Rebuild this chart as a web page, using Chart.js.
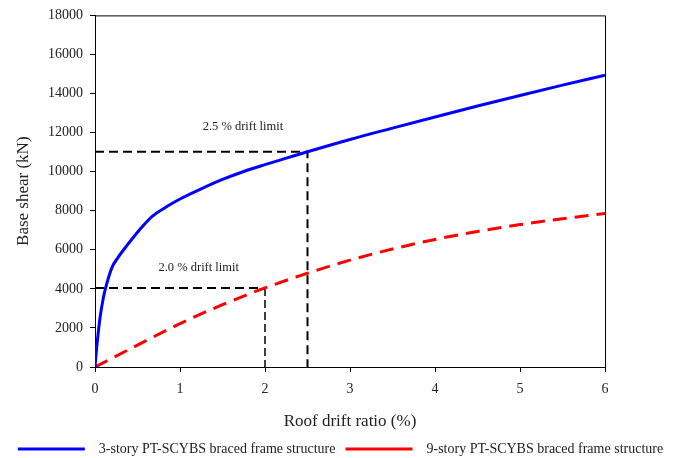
<!DOCTYPE html>
<html>
<head>
<meta charset="utf-8">
<script src="https://cdn.jsdelivr.net/npm/chart.js@4/dist/chart.umd.min.js"></script>
<style>
  html, body { margin: 0; padding: 0; background: #fff; }
  #wrap { width: 681px; height: 458px; }
</style>
</head>
<body>
<div id="wrap"><canvas id="pushover"></canvas></div>
<script>
// Datos (deriva de techo en %, cortante basal en kN)
const drift3 = [0, 0.02, 0.06, 0.1, 0.125, 0.2, 0.27, 0.39, 0.51, 0.67, 0.86, 1.0, 1.25, 1.5, 1.75, 2.0, 2.25, 2.5, 3.0, 3.5, 4.0, 4.5, 5.0, 5.5, 6.0];
const shear3 = [0, 1000, 2550, 3580, 4050, 5100, 5600, 6300, 6950, 7700, 8250, 8600, 9120, 9600, 10010, 10360, 10690, 11020, 11650, 12230, 12800, 13360, 13900, 14430, 14940];

const drift9 = [0, 0.5, 1.0, 1.5, 2.0, 2.5, 3.0, 3.5, 4.0, 4.5, 5.0, 5.5, 6.0];
const shear9 = [0, 1120, 2220, 3190, 4050, 4800, 5470, 6040, 6530, 6940, 7290, 7590, 7860];

// Líneas de límite de deriva
const limit25X = [0, 2.5, 2.5];
const limit25Y = [11020, 11020, 0];
const limit20HX = [0, 2.0];
const limit20HY = [4050, 4050];
const limit20VX = [2.0, 2.0];
const limit20VY = [4050, 0];

const xTicks = [0, 1, 2, 3, 4, 5, 6];
const yTicks = [0, 2000, 4000, 6000, 8000, 10000, 12000, 14000, 16000, 18000];

const seriesNames = ['3-story PT-SCYBS braced frame structure', '9-story PT-SCYBS braced frame structure'];

// Textos de anotación: [texto, x, y]
const notes = [
  ['2.5 % drift limit', 1.74, 12300],
  ['2.0 % drift limit', 1.22, 5080]
];

function toPoints(xs, ys) {
  return xs.map((x, i) => ({ x: x, y: ys[i] }));
}

const serif = "'Liberation Serif', 'Times New Roman', serif";

// Marco superior y derecho + anotaciones
const extras = {
  id: 'extras',
  afterDatasetsDraw(chart) {
    const { ctx, chartArea, scales } = chart;
    ctx.save();
    ctx.strokeStyle = '#000';
    ctx.lineWidth = 1;
    ctx.beginPath();
    ctx.moveTo(chartArea.left, chartArea.top + 0.5);
    ctx.lineTo(chartArea.right + 0.5, chartArea.top + 0.5);
    ctx.lineTo(chartArea.right + 0.5, chartArea.bottom);
    ctx.stroke();

    ctx.fillStyle = '#222';
    ctx.font = '12.5px ' + serif;
    ctx.textAlign = 'center';
    ctx.textBaseline = 'middle';
    notes.forEach(n => {
      ctx.fillText(n[0], scales.x.getPixelForValue(n[1]), scales.y.getPixelForValue(n[2]));
    });
    ctx.restore();
  }
};

const chart = new Chart(document.getElementById('pushover'), {
  type: 'scatter',
  data: {
    datasets: [
      {
        label: seriesNames[0],
        data: toPoints(drift3, shear3),
        showLine: true,
        borderColor: '#0000ff',
        backgroundColor: '#0000ff',
        borderWidth: 3,
        pointRadius: 0,
        cubicInterpolationMode: 'monotone'
      },
      {
        label: seriesNames[1],
        data: toPoints(drift9, shear9),
        showLine: true,
        borderColor: '#ff0000',
        backgroundColor: '#ff0000',
        borderWidth: 3,
        borderDash: [14, 8],
        pointRadius: 0,
        cubicInterpolationMode: 'monotone'
      },
      {
        label: 'lim25',
        data: toPoints(limit25X, limit25Y),
        showLine: true,
        borderColor: '#000',
        borderWidth: 2,
        borderDash: [9, 5],
        pointRadius: 0
      },
      {
        label: 'lim20h',
        data: toPoints(limit20HX, limit20HY),
        showLine: true,
        borderColor: '#000',
        borderWidth: 2,
        borderDash: [9, 5],
        pointRadius: 0
      },
      {
        label: 'lim20v',
        data: toPoints(limit20VX, limit20VY),
        showLine: true,
        borderColor: '#000',
        borderWidth: 1.5,
        borderDash: [8, 4],
        pointRadius: 0
      }
    ]
  },
  options: {
    responsive: true,
    maintainAspectRatio: false,
    animation: false,
    layout: { padding: { left: 0, right: 0, top: 4, bottom: -8 } },
    plugins: {
      tooltip: { enabled: false },
      legend: {
        position: 'bottom',
        labels: {
          // solo las dos curvas; un poco más de aire entre línea y texto
          generateLabels: ch => Chart.defaults.plugins.legend.labels.generateLabels(ch)
            .filter(item => item.datasetIndex < 2)
            .map(item => Object.assign(item, { text: '  ' + item.text })),
          usePointStyle: true,
          pointStyle: 'line',
          pointStyleWidth: 67,
          padding: 10,
          color: '#222',
          font: { family: serif, size: 14 }
        }
      }
    },
    scales: {
      x: {
        type: 'linear',
        min: 0,
        max: 6,
        afterBuildTicks: s => { s.ticks = xTicks.map(v => ({ value: v })); },
        afterFit: s => { s.height = 65; },
        ticks: { color: '#222', font: { family: serif, size: 14 }, padding: 9 },
        grid: { display: true, drawOnChartArea: false, drawTicks: true, tickLength: 5, color: '#000' },
        border: { color: '#000', width: 1 },
        title: { display: true, text: 'Roof drift ratio (%)', color: '#222', font: { family: serif, size: 17 }, padding: { top: 2, bottom: 0 } }
      },
      y: {
        type: 'linear',
        min: 0,
        max: 18000,
        afterBuildTicks: s => { s.ticks = yTicks.map(v => ({ value: v })); },
        afterFit: s => { s.width = 95; },
        ticks: { color: '#222', font: { family: serif, size: 14 }, padding: 7, callback: v => String(v) },
        grid: { display: true, drawOnChartArea: false, drawTicks: true, tickLength: 5, color: '#000' },
        border: { color: '#000', width: 1 },
        title: { display: true, text: 'Base shear (kN)', color: '#222', font: { family: serif, size: 17 }, padding: { top: 13, bottom: 4 } }
      },
      y2: {
        type: 'linear',
        position: 'right',
        display: true,
        min: 0,
        max: 18000,
        afterFit: s => { s.width = 76; },
        ticks: { display: false },
        grid: { display: false },
        border: { display: false }
      }
    }
  },
  plugins: [extras]
});
</script>
</body>
</html>
